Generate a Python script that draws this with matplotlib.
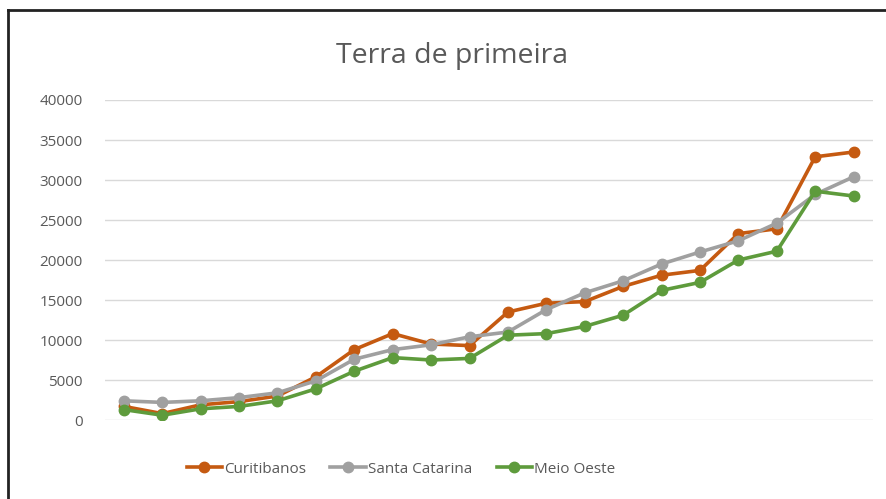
import matplotlib.pyplot as plt
from matplotlib.lines import Line2D

plt.rcParams['font.family'] = ['Open Sans', 'DejaVu Sans']

# Data (20 points per series)
curitibanos = [1700, 800, 1900, 2300, 3000, 5400, 8800, 10800, 9500, 9300,
               13500, 14600, 14800, 16700, 18100, 18700, 23300, 23900, 32900, 33500]
santa_catarina = [2400, 2200, 2400, 2800, 3400, 4900, 7600, 8800, 9400, 10400,
                  11000, 13800, 15900, 17400, 19500, 21000, 22400, 24600, 28200, 30400]
meio_oeste = [1300, 600, 1400, 1700, 2400, 3900, 6100, 7800, 7500, 7700,
              10600, 10800, 11700, 13100, 16200, 17200, 20000, 21100, 28600, 28000]
series_names = ['Curitibanos', 'Santa Catarina', 'Meio Oeste']
colors = ['#C55A11', '#A0A0A0', '#5E9B3C']
yticks = [0, 5000, 10000, 15000, 20000, 25000, 30000, 35000, 40000]

fig = plt.figure(figsize=(8.87, 4.99), dpi=100)
ax = fig.add_axes([0.118, 0.1583, 0.866, 0.6413])

x = range(len(curitibanos))
for vals, name, c in zip([curitibanos, santa_catarina, meio_oeste], series_names, colors):
    ax.plot(x, vals, color=c, lw=2.6, marker='o', ms=7.5, label=name)

ax.set_xlim(-0.5, len(curitibanos) - 0.5)
ax.set_ylim(0, 40000)
ax.set_yticks(yticks)
ax.set_yticklabels([str(v) for v in yticks], fontsize=11, color='#595959')
ax.set_xticks([])
ax.tick_params(axis='y', length=0, pad=16)
ax.grid(axis='y', color='#D9D9D9', lw=1)
ax.set_axisbelow(True)
for s in ax.spines.values():
    s.set_visible(False)

fig.text(0.51, 0.874, 'Terra de primeira', ha='center', va='baseline',
         fontsize=20.5, color='#595959')

ax.legend(loc='center', bbox_to_anchor=(0.452, 0.06), bbox_transform=fig.transFigure,
          ncol=3, frameon=False, fontsize=11, labelcolor='#595959',
          handlelength=2.3, columnspacing=1.6, handletextpad=0.15)

# chart border (left and top edges visible in the reference)
fig.lines.append(Line2D([0.009, 0.009], [0, 0.98], transform=fig.transFigure,
                        color='#222222', lw=2))
fig.lines.append(Line2D([0.009, 1], [0.98, 0.98], transform=fig.transFigure,
                        color='#222222', lw=2))

fig.savefig('out.png', dpi=100)
